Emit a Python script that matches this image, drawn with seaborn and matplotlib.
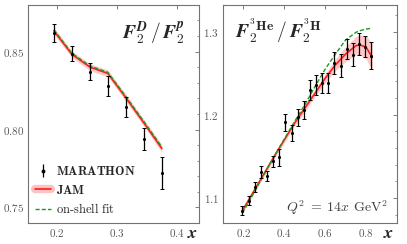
import numpy as np
import pandas as pd
import matplotlib
matplotlib.use("Agg")
import matplotlib.pyplot as plt
from matplotlib.ticker import MultipleLocator, FuncFormatter
from matplotlib.lines import Line2D
import seaborn as sns

sns.set_theme(style="white")
plt.rcParams["mathtext.fontset"] = "cm"
plt.rcParams["font.family"] = ["DejaVu Serif"]

# ---------------- data: left panel F2D/F2p ----------------
d_x = [0.195, 0.225, 0.255, 0.285, 0.315, 0.345, 0.375]
d_y = [0.862, 0.8487, 0.8371, 0.8279, 0.8146, 0.794, 0.772]
d_err = [0.0059, 0.0046, 0.0053, 0.0064, 0.0065, 0.007, 0.0103]
d_jam = [0.8633, 0.8483, 0.8401, 0.8360, 0.8204, 0.8043, 0.7878]
d_jam_err = [0.0022, 0.0020, 0.0022, 0.0022, 0.0022, 0.0022, 0.0024]
d_shell = [0.8640, 0.8490, 0.8408, 0.8367, 0.8212, 0.8052, 0.7888]

# ---------------- data: right panel F2He3/F2H3 ----------------
h_x = [0.195, 0.225, 0.255, 0.285, 0.315, 0.345, 0.375, 0.405, 0.435, 0.465, 0.495,
       0.525, 0.555, 0.585, 0.615, 0.645, 0.675, 0.705, 0.735, 0.765, 0.795, 0.825]
h_y = [1.085, 1.097, 1.113, 1.131, 1.127, 1.144, 1.149, 1.191, 1.178, 1.197, 1.206,
       1.230, 1.236, 1.238, 1.238, 1.262, 1.259, 1.279, 1.272, 1.285, 1.282, 1.271]
h_err = [0.005, 0.005, 0.006, 0.007, 0.006, 0.007, 0.010, 0.010, 0.010, 0.010, 0.011,
         0.012, 0.012, 0.012, 0.012, 0.013, 0.014, 0.012, 0.014, 0.013, 0.013, 0.016]
c_x = [0.195, 0.25, 0.30, 0.35, 0.40, 0.45, 0.50, 0.55, 0.60, 0.65, 0.70, 0.75, 0.77, 0.80, 0.83]
c_jam = [1.085, 1.108, 1.129, 1.150, 1.170, 1.190, 1.208, 1.226, 1.244, 1.260, 1.273, 1.283, 1.284, 1.281, 1.269]
c_jam_err = [0.003, 0.003, 0.003, 0.003, 0.003, 0.003, 0.004, 0.004, 0.005, 0.007, 0.009, 0.011, 0.012, 0.014, 0.016]
c_shell = [1.082, 1.106, 1.128, 1.150, 1.171, 1.192, 1.212, 1.234, 1.255, 1.273, 1.290, 1.299, 1.301, 1.303, 1.304]

RED = "#ff1a1a"
PINK = "#ff9a9a"
GREEN = "#1f9a1f"

fig = plt.figure(figsize=(4.07, 2.44), dpi=100)
axL = fig.add_axes([0.069, 0.086, 0.420, 0.894])
axR = fig.add_axes([0.548, 0.086, 0.427, 0.894])


def style(ax, fmt):
    for s in ax.spines.values():
        s.set_color("0.45")
        s.set_linewidth(0.8)
    ax.tick_params(which="both", direction="in", top=True, right=True,
                   color="0.4", labelcolor="0.35", labelsize=8, pad=3)
    ax.tick_params(which="major", length=3, width=0.6)
    ax.tick_params(which="minor", length=1.8, width=0.5)
    ax.xaxis.set_major_formatter(FuncFormatter(lambda v, p: r"$%.1f$" % v))
    ax.yaxis.set_major_formatter(FuncFormatter(lambda v, p: fmt % v))
    ax.set_xlabel("")
    ax.set_ylabel("")


def panel(ax, x, y, err, cx, jam, jerr, shell):
    lo = np.array(jam) - np.array(jerr)
    hi = np.array(jam) + np.array(jerr)
    ax.fill_between(cx, lo, hi, color=PINK, alpha=0.55, lw=0, zorder=1)
    sns.lineplot(x=cx, y=jam, ax=ax, color=RED, lw=1.2, zorder=2)
    sns.lineplot(x=cx, y=shell, ax=ax, color=GREEN, lw=1.0, ls=(0, (3, 1.5)), zorder=3)
    ax.errorbar(x, y, yerr=err, fmt="none", ecolor="black", elinewidth=0.9,
                capsize=1.6, capthick=0.7, zorder=4)
    sns.scatterplot(x=x, y=y, ax=ax, color="black", s=5, edgecolor="black",
                    linewidth=0, zorder=5)


panel(axL, d_x, d_y, d_err, d_x, d_jam, d_jam_err, d_shell)
axL.set_xlim(0.152, 0.437)
axL.set_ylim(0.740, 0.880)
axL.xaxis.set_major_locator(MultipleLocator(0.1))
axL.yaxis.set_major_locator(MultipleLocator(0.05))
axL.yaxis.set_minor_locator(MultipleLocator(0.01))
style(axL, r"$%.2f$")

panel(axR, h_x, h_y, h_err, c_x, c_jam, c_jam_err, c_shell)
axR.set_xlim(0.10, 0.95)
axR.set_ylim(1.070, 1.332)
axR.xaxis.set_major_locator(MultipleLocator(0.2))
axR.yaxis.set_major_locator(MultipleLocator(0.1))
axR.yaxis.set_minor_locator(MultipleLocator(0.02))
style(axR, r"$%.1f$")

# titles
axL.text(0.73, 0.87, r"$\mathbfit{F}_{\mathbf{2}}^{\mathbfit{D}}\,/\,\mathbfit{F}_{\mathbf{2}}^{\mathbfit{p}}$",
         transform=axL.transAxes, ha="center", va="center", fontsize=14)
axR.text(0.32, 0.88, r"$\mathbfit{F}_{\mathbf{2}}^{\mathbf{{}^3He}}\,/\,\mathbfit{F}_{\mathbf{2}}^{\mathbf{{}^3H}}$",
         transform=axR.transAxes, ha="center", va="center", fontsize=14)
axR.text(0.95, 0.07, r"$Q^2\;=\;14x\;\,\mathrm{GeV}^2$", transform=axR.transAxes,
         ha="right", va="center", fontsize=10, color="0.25")

# x labels
axL.text(0.965, -0.045, r"$\mathbfit{x}$", transform=axL.transAxes, ha="center",
         va="center", fontsize=13)
axR.text(0.95, -0.045, r"$\mathbfit{x}$", transform=axR.transAxes, ha="center",
         va="center", fontsize=13)

# legend
eb = axL.errorbar([], [], yerr=[], fmt="o", ms=1.8, color="black", elinewidth=0.9,
                  capsize=1.6, capthick=0.7)
band = Line2D([], [], color=PINK, lw=6, alpha=0.6)
red = Line2D([], [], color=RED, lw=1.2)
grn = Line2D([], [], color=GREEN, lw=1.0, ls=(0, (3, 1.5)))
axL.legend([eb, (band, red), grn],
           [r"$\mathbf{MARATHON}$", r"$\mathbf{JAM}$", r"$\mathrm{on\text{-}shell\ fit}$"],
           loc="lower left", bbox_to_anchor=(-0.025, -0.02), frameon=False, fontsize=9,
           handlelength=1.3, handletextpad=0.35, labelspacing=0.45)

fig.savefig("out.png", dpi=100)
